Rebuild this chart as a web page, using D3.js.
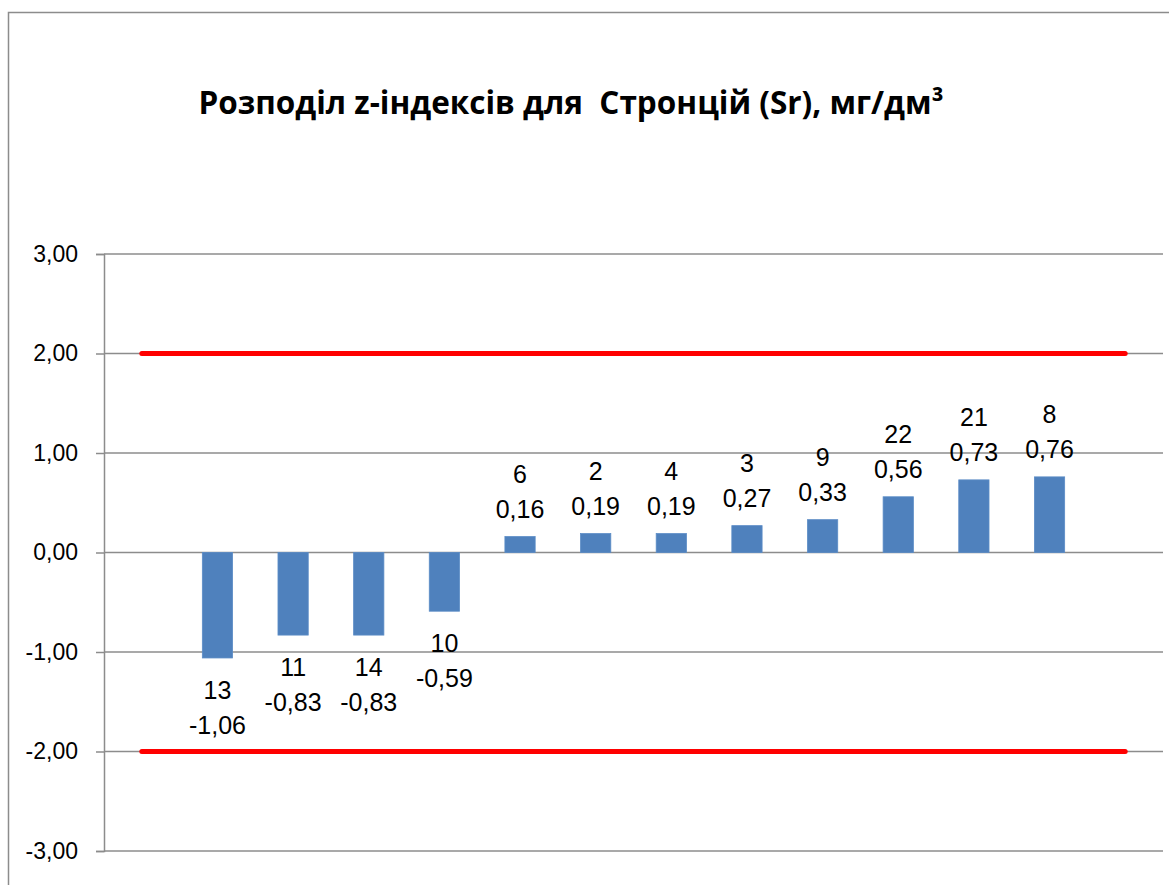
<!DOCTYPE html>
<html>
<head>
<meta charset="utf-8">
<script src="https://cdn.jsdelivr.net/npm/d3@7"></script>
<style>
  body { margin: 0; background: #fff; }
  text { font-family: "Liberation Sans", Arial, sans-serif; fill: #000; }
</style>
</head>
<body>
<svg width="1169" height="885"></svg>
<script>
const categories = ['', '13', '11', '14', '10', '6', '2', '4', '3', '9', '22', '21', '8', '']
const zValues = [null, -1.06, -0.83, -0.83, -0.59, 0.16, 0.19, 0.19, 0.27, 0.33, 0.56, 0.73, 0.76, null]
const upperLimit = [2, 2, 2, 2, 2, 2, 2, 2, 2, 2, 2, 2, 2, 2]
const lowerLimit = [-2, -2, -2, -2, -2, -2, -2, -2, -2, -2, -2, -2, -2, -2]
const yTicks = [-3, -2, -1, 0, 1, 2, 3]
const title = 'Розподіл z-індексів для  Стронцій (Sr), мг/дм³'

const svg = d3.select('svg')
const width = +svg.attr('width')
const height = +svg.attr('height')

const margin = { top: 254, right: 6, bottom: 34, left: 104 }
const innerWidth = width - margin.left - margin.right
const innerHeight = height - margin.top - margin.bottom

const fmt = v => d3.format('.2f')(v).replace('.', ',').replace('−', '-')

// chart frame (only the left and top edges fall inside the picture)
svg.append('path')
  .attr('d', 'M8.5,' + height + 'V12.5H' + width)
  .attr('fill', 'none')
  .attr('stroke', '#8c8c8c')
  .attr('stroke-width', 1.5)

svg.append('text')
  .attr('x', 571).attr('y', 114)
  .attr('text-anchor', 'middle')
  .style('font-family', '"Open Sans", sans-serif')
  .style('font-weight', 'bold')
  .style('font-size', '31.5px')
  .style('white-space', 'pre')
  .text(title)

const g = svg.append('g')
  .attr('transform', 'translate(' + margin.left + ',' + margin.top + ')')

const xScale = d3.scaleBand()
  .domain(d3.range(categories.length))
  .range([0, innerWidth])
  .padding(0)

const yScale = d3.scaleLinear()
  .domain([-3, 3])
  .range([innerHeight, 0])

// gridlines
g.append('g')
  .selectAll('line')
  .data(yTicks)
  .join('line')
  .attr('x1', 0).attr('x2', innerWidth)
  .attr('y1', d => yScale(d)).attr('y2', d => yScale(d))
  .attr('stroke', '#8c8c8c')
  .attr('stroke-width', 1.5)

const yAxis = g.append('g')
  .call(d3.axisLeft(yScale).tickValues(yTicks).tickFormat(fmt).tickSize(8).tickPadding(18))
yAxis.attr('font-size', null).attr('font-family', null)
yAxis.select('.domain').attr('stroke', '#8c8c8c').attr('stroke-width', 1.5)
yAxis.selectAll('.tick line').attr('stroke', '#8c8c8c').attr('stroke-width', 1.5)
yAxis.selectAll('.tick text').style('font-size', '23px')

const barW = xScale.bandwidth() * 0.4
const bars = zValues.map((v, i) => ({ i, v, cat: categories[i] })).filter(d => d.v !== null)

g.append('g')
  .selectAll('rect')
  .data(bars)
  .join('rect')
  .attr('x', d => xScale(d.i) + (xScale.bandwidth() - barW) / 2)
  .attr('y', d => yScale(Math.max(0, d.v)))
  .attr('width', barW)
  .attr('height', d => Math.abs(yScale(d.v) - yScale(0)))
  .attr('fill', '#4f81bd')
  .attr('stroke', '#5b8cc6')
  .attr('stroke-width', 0.8)

// limit lines
const line = d3.line()
  .x((d, i) => xScale(i) + xScale.bandwidth() / 2)
  .y(d => yScale(d))

;[upperLimit, lowerLimit].forEach(s => {
  g.append('path')
    .datum(s)
    .attr('d', line)
    .attr('fill', 'none')
    .attr('stroke', '#ff0000')
    .attr('stroke-width', 5)
    .attr('stroke-linecap', 'round')
})

// data labels: category on top line, value below
const cx = d => xScale(d.i) + xScale.bandwidth() / 2
const firstY = d => d.v >= 0 ? yScale(d.v) - 54 : yScale(d.v) + 41

const labelG = g.append('g').style('font-size', '25px').attr('text-anchor', 'middle')

labelG.selectAll('text.cat')
  .data(bars)
  .join('text')
  .attr('class', 'cat')
  .attr('x', cx)
  .attr('y', firstY)
  .text(d => d.cat)

labelG.selectAll('text.val')
  .data(bars)
  .join('text')
  .attr('class', 'val')
  .attr('x', cx)
  .attr('y', d => firstY(d) + 35)
  .text(d => fmt(d.v))
</script>
</body>
</html>
